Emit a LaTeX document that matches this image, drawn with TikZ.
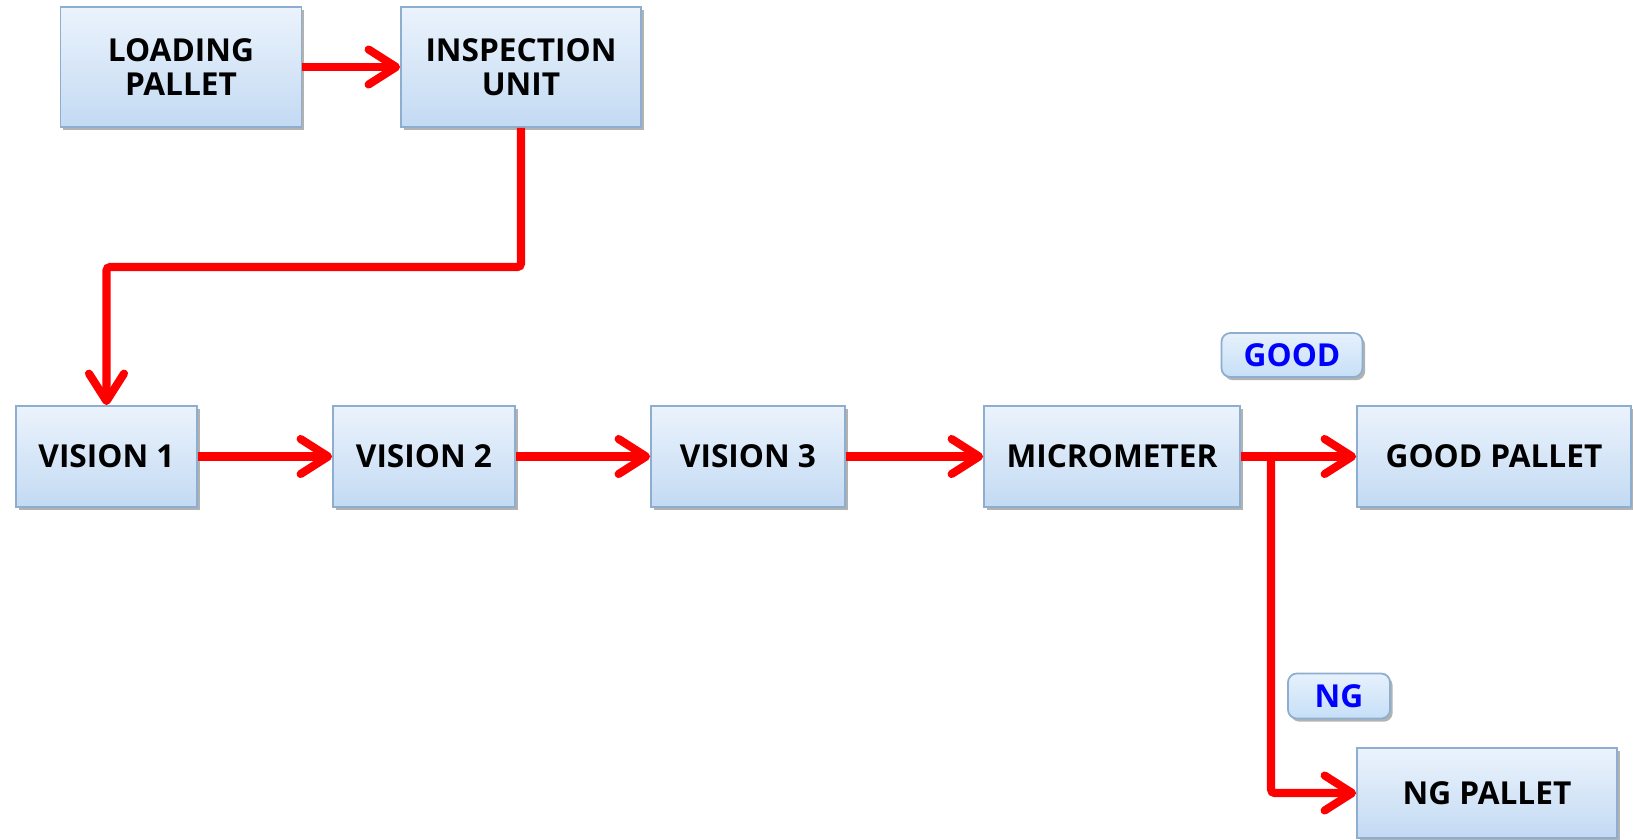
\documentclass[tikz,border=0pt]{standalone}
\usepackage{fontspec}
\setmainfont{Open Sans}
\usetikzlibrary{positioning,arrows.meta,shadows}
\definecolor{boxline}{HTML}{8DAECF}
\definecolor{boxtop}{HTML}{EBF3FC}
\definecolor{boxbot}{HTML}{C3DAF3}
\definecolor{tagtop}{HTML}{E6F1FC}
\definecolor{tagbot}{HTML}{C6DFF7}

\begin{document}
\begin{tikzpicture}[x = 0.02cm, y = -0.02cm,
  box/.style = {draw = boxline, line width = 1pt, top color = boxtop, bottom color = boxbot,
    drop shadow = {shadow xshift = 1.5pt, shadow yshift = -1.8pt, opacity = 0.3, fill = black},
    shape = rectangle, inner sep = 0pt, align = center, minimum height = 2.02cm,
    font = \bfseries\fontsize{18}{19}\selectfont},
  tag/.style = {box, rounded corners = 5pt, text = blue, minimum height = 0.88cm, top color = tagtop, bottom color = tagbot},
  flow/.style = {draw = red, line width = 4.6pt, rounded corners = 2pt,
    -{Straight Barb[round, length = 0.55cm, width = 0.7cm]}}]
\useasboundingbox (0,0) rectangle (1633,839);
\node[box, minimum width = 4.82cm, minimum height = 2.4cm] (load) at (181,67) {LOADING\\PALLET};
\node[box, minimum width = 4.8cm, minimum height = 2.4cm] (insp) at (521,67) {INSPECTION\\UNIT};
\node[box, minimum width = 3.62cm] (vis1) at (106.5,456.5) {VISION  1};
\node[box, minimum width = 3.64cm] (vis2) at (424,456.5) {VISION  2};
\node[box, minimum width = 3.88cm] (vis3) at (748,456.5) {VISION  3};
\node[box, minimum width = 5.12cm] (micro) at (1112,456.5) {MICROMETER};
\node[box, minimum width = 5.48cm] (good) at (1494,456.5) {GOOD  PALLET};
\node[box, minimum width = 5.2cm, minimum height = 1.8cm] (ng) at (1487,793) {NG  PALLET};
\node[tag, minimum width = 2.82cm] (goodtag) at (1292,355) {GOOD};
\node[tag, minimum width = 2.04cm, minimum height = 0.9cm] (ngtag) at (1339,696) {NG};
\coordinate (bend) at (300,267);
\coordinate (split) at (1271,456.5);
\draw[flow] (load) -- (insp);
\draw[flow] (insp.south) |- (bend) -| (vis1.north);
\draw[flow] (vis1) -- (vis2);
\draw[flow] (vis2) -- (vis3);
\draw[flow] (vis3) -- (micro);
\draw[flow] (micro) -- (good);
\draw[flow] (split) |- (ng.west);
\end{tikzpicture}
\end{document}
